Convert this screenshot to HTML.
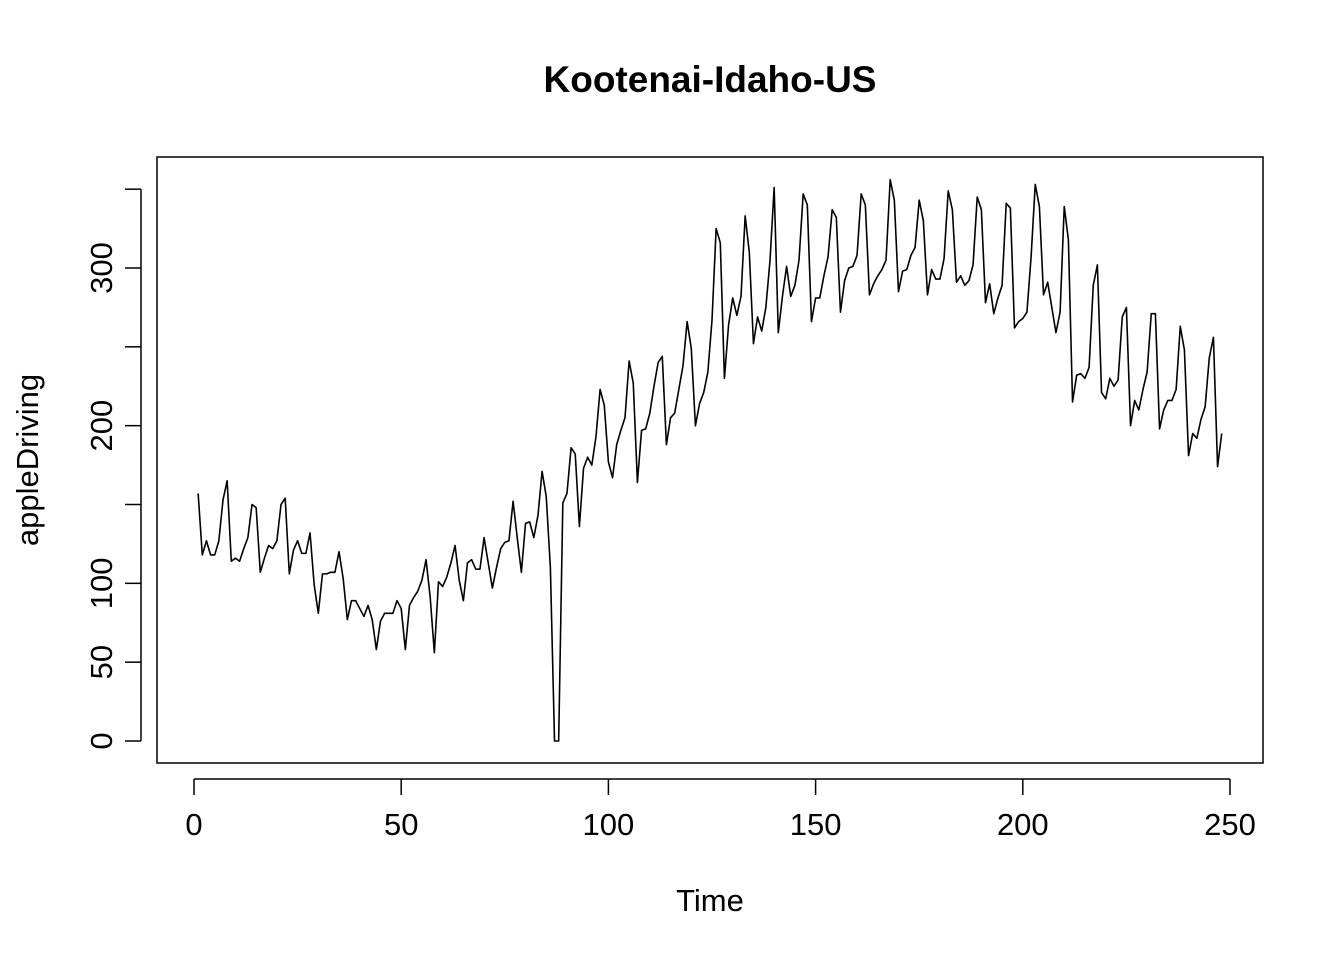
<!DOCTYPE html>
<html><head><meta charset="utf-8"><style>
body{margin:0;background:#fff}
svg text{font-family:"Liberation Sans",Arial,sans-serif;fill:#000}
</style></head><body>
<svg id="chart" width="1344" height="960" viewBox="0 0 1344 960" xmlns="http://www.w3.org/2000/svg">
<rect x="0" y="0" width="1344" height="960" fill="#fff"/>
<text x="710" y="92" font-size="37" font-weight="bold" text-anchor="middle">Kootenai-Idaho-US</text>
<rect x="157" y="157" width="1106" height="606" fill="none" stroke="#000" stroke-width="1.5"/>
<g id="xaxis"></g>
<g id="yaxis"></g>
<text x="710" y="911" font-size="31" text-anchor="middle">Time</text>
<text x="0" y="0" font-size="31" text-anchor="middle" transform="translate(38,460) rotate(-90)">appleDriving</text>
<path id="series" fill="none" stroke="#000" stroke-width="1.6" stroke-linejoin="round"/>
</svg>
<script>
const values = [157,118,127,118,118,127,153,165,114,116,114,122,129,150,148,107,116,124,122,127,150,154,106,121,127,119,119,132,99,81,106,106,107,107,120,103,77,89,89,84,79,86,77,58,76,81,81,81,89,84,58,86,91,95,102,115,91,56,101,98,104,113,124,102,89,113,115,109,109,129,113,97,110,122,126,127,152,129,107,138,139,129,143,171,155,110,0,0,151,157,186,182,136,173,180,175,193,223,213,177,167,188,197,205,241,227,164,197,198,208,225,240,244,188,205,208,223,238,266,249,200,214,221,234,267,325,316,230,264,281,270,282,333,310,252,269,260,275,305,351,259,282,301,282,289,305,347,340,266,281,281,295,307,337,332,272,292,300,301,308,347,340,283,290,295,299,305,356,343,285,298,299,308,313,343,330,283,299,293,293,306,349,337,291,295,289,292,302,345,337,278,290,271,281,289,341,338,262,266,268,272,307,353,339,283,291,275,259,272,339,318,215,232,233,230,237,289,302,221,217,230,225,229,269,275,200,216,210,223,234,271,271,198,210,216,216,223,263,248,181,195,192,204,212,243,256,174,195];
const xTicks = [0,50,100,150,200,250];
const yTicks = [0,50,100,150,200,250,300,350];
const yTickLabels = ["0","50","100","","200","","300",""];
const NS="http://www.w3.org/2000/svg";
const xs = t => 194 + (t)*(1230-194)/250;
const ys = v => 741 - v*(741-268)/300;
const xa=document.getElementById('xaxis'), ya=document.getElementById('yaxis');
function mk(tag,attrs,parent){const e=document.createElementNS(NS,tag);for(const k in attrs)e.setAttribute(k,attrs[k]);parent.appendChild(e);return e;}
const xl=mk('line',{x1:xs(xTicks[0]),x2:xs(xTicks[xTicks.length-1]),y1:779,y2:779,stroke:'#000','stroke-width':1.5},xa);


xTicks.forEach(t=>{
  const l=mk('line',{x1:xs(t),x2:xs(t),y1:779,y2:795,stroke:'#000','stroke-width':1.5},xa);
  
  
  const tx=mk('text',{x:xs(t),y:835,'font-size':31,'text-anchor':'middle'},xa);
  tx.textContent=t;
  
  
});
const yl=mk('line',{x1:141,x2:141,y1:ys(yTicks[yTicks.length-1]),y2:ys(yTicks[0]),stroke:'#000','stroke-width':1.5},ya);


yTicks.forEach((v,i)=>{
  const l=mk('line',{x1:125,x2:141,y1:ys(v),y2:ys(v),stroke:'#000','stroke-width':1.5},ya);
  
  
  if(yTickLabels[i]){
    const tx=mk('text',{x:0,y:0,'font-size':31,'text-anchor':'middle',transform:`translate(112,${ys(v)}) rotate(-90)`},ya);
    tx.textContent=yTickLabels[i];
    
    
  }
});
document.getElementById('series').setAttribute('d',values.map((v,i)=>(i?'L':'M')+xs(i+1).toFixed(2)+','+ys(v).toFixed(2)).join(''));
</script>
</body></html>
